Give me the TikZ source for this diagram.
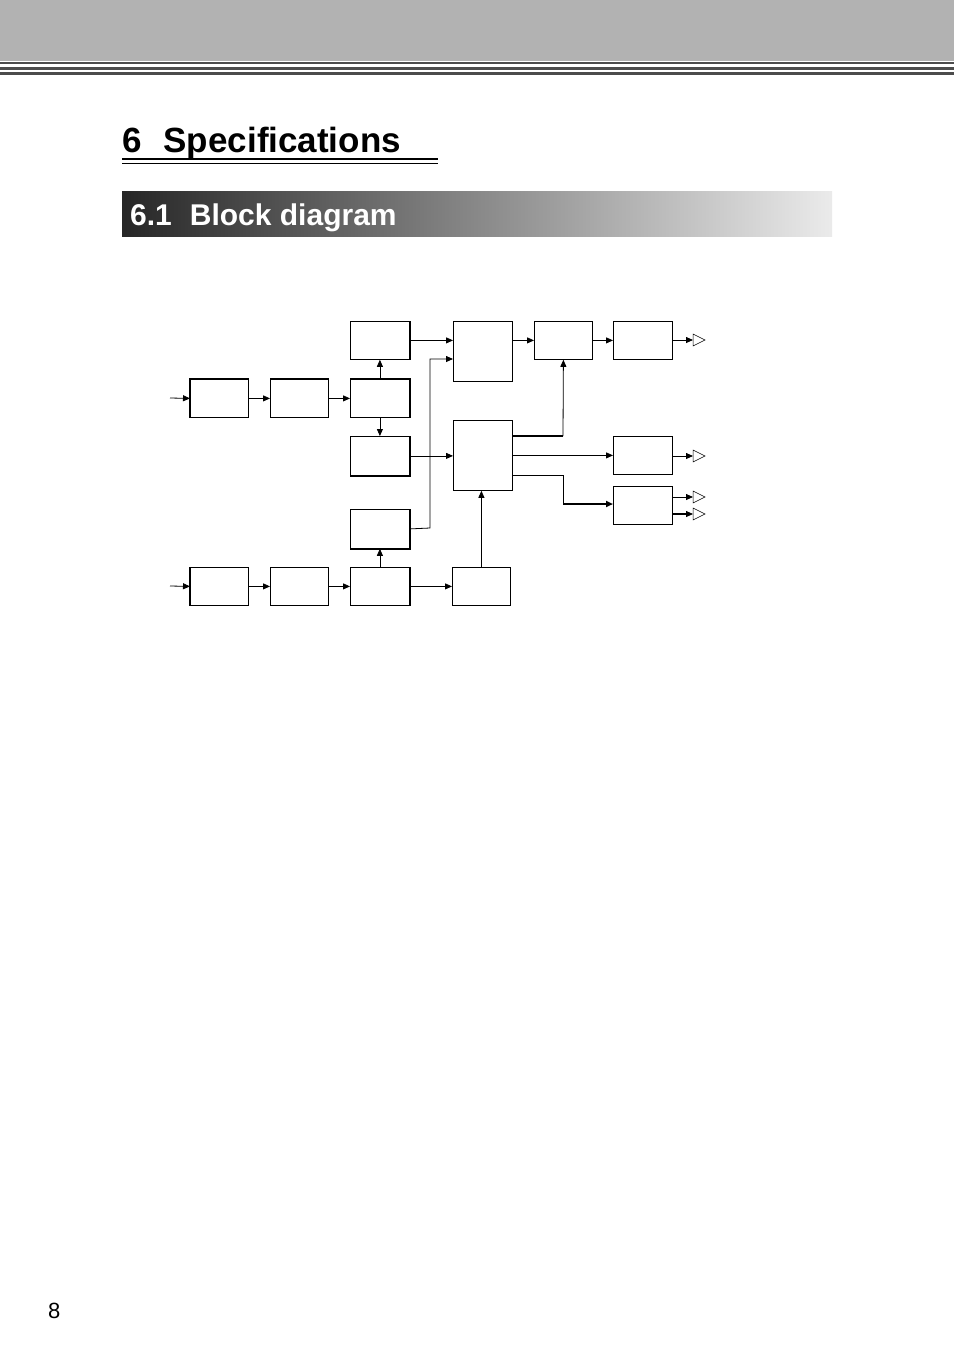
\documentclass[tikz,border=0pt]{standalone}
\usepackage{fontspec}
\setmainfont{Liberation Sans}
\usetikzlibrary{arrows.meta}
\begin{document}
\begin{tikzpicture}[x=1pt,y=-1pt,
  blk/.style={draw,line width=0.8pt,fill=white},
  ar/.style={-{Triangle[length=7pt,width=6pt]},line width=0.8pt},
  thk/.style={line width=2pt},
  otri/.style={draw,line width=0.5pt,fill=white}]
\useasboundingbox (0,0) rectangle (954,1357);
\fill[white] (0,0) rectangle (954,1357);
% header
\fill[black!30] (0,0) rectangle (954,61);
\fill[black!70] (0,62) rectangle (954,64);
\fill[black!70] (0,66.5) rectangle (954,69.5);
\fill[black!70] (0,72) rectangle (954,74.5);
% titles
\node[anchor=base west,inner sep=0,font=\bfseries\fontsize{35}{40}\selectfont] (t6) at (122,152) {6\hspace{22pt}Specifications};
\draw[line width=2pt] (122,159) -- (438,159);
\draw[line width=1.2pt] (122,163.5) -- (438,163.5);
\shade[left color=black!85,right color=black!8] (122,191) rectangle (832,236);
\node[anchor=base west,inner sep=0,text=white,font=\bfseries\fontsize{30}{34}\selectfont] (t61) at (130,225) {6.1\hspace{18pt}Block diagram};
\node[anchor=base west,inner sep=0,font=\fontsize{22}{26}\selectfont] (pg) at (48,1318) {8};
% boxes
\foreach \n/\a/\b/\c/\d in {A1/190/379/248/417, A2/270/379/328/417, A3/350/379/409/417,
 B/350/321/409/359, C/350/436/409/475, D/350/509/409/548,
 E1/190/567/248/605, E2/270/567/328/605, E3/350/567/409/605, E4/452/567/510/605,
 M1/453/321/512/381, M2/453/420/512/490, R1/534/321/592/359, R2/613/321/672/359,
 R3/613/436/672/474, R4/613/486/672/524}
 {\node[blk,minimum width={\c-\a},minimum height={\d-\b},inner sep=0,anchor=north west] (\n) at (\a,\b) {};}
% thick edges
\draw[thk] (A1.south west) -- (A1.north west) -- (A1.north east);
\draw[thk] (A2.north west) -- (A2.north east);
\draw[thk] (A3.north west) -- (A3.north east) -- (A3.south east);
\draw[thk] (B.north east) -- (B.south east);
\draw[thk] (C.north east) -- (C.south east) -- (C.south west);
\draw[thk] (D.south west) -- (D.south east) -- (D.north east);
\draw[thk] (E1.north west) -- (E1.south west);
\draw[thk] (E3.north east) -- (E3.south east);
% inputs
\coordinate (i1) at (170,398); \coordinate (i2) at (170,586);
\draw[ar] (i1) -- (A1.west);
\draw[ar] (i2) -- (E1.west);
\draw[ar] (A1) -- (A2); \draw[ar] (A2) -- (A3);
\draw[ar] (E1) -- (E2); \draw[ar] (E2) -- (E3); \draw[ar] (E3) -- (E4);
\draw[ar] (A3) -- (B); \draw[ar] (A3) -- (C); \draw[ar] (E3) -- (D);
\draw[ar] (B.east) -- (B.east -| M1.west);
\draw[ar] (D.east) -- (430,528) -- (430,359) -- (M1.west |- 0,359);
\draw[ar] (C.east) -- (C.east -| M2.west);
\draw[ar] (E4.north) -- (E4.north |- M2.south);
\draw[ar] (M1.east |- R1.west) -- (R1.west);
\draw[ar] (R1) -- (R2);
\draw[thk] (M2.east |- 0,436) -- (563,436);
\draw[ar] (563,436) -- (R1.south);
\draw[ar] (M2.east |- R3.west) -- (R3.west);
\draw[line width=0.8pt] (M2.east |- 0,475) -- (563,475) -- (563,504);
\draw[ar,line width=2pt] (563,504) -- (R4.west |- 0,504);
% outputs
\foreach \y/\s in {340/R2,456/R3,497/R4,514/R4}{
  \draw[ar] (\s.east |- 0,\y) -- (693,\y);
  \draw[otri] (693,\y-6) -- (705,\y) -- (693,\y+6) -- cycle;}
\draw[line width=2pt] (672,514) -- (686,514);
\end{tikzpicture}
\end{document}
